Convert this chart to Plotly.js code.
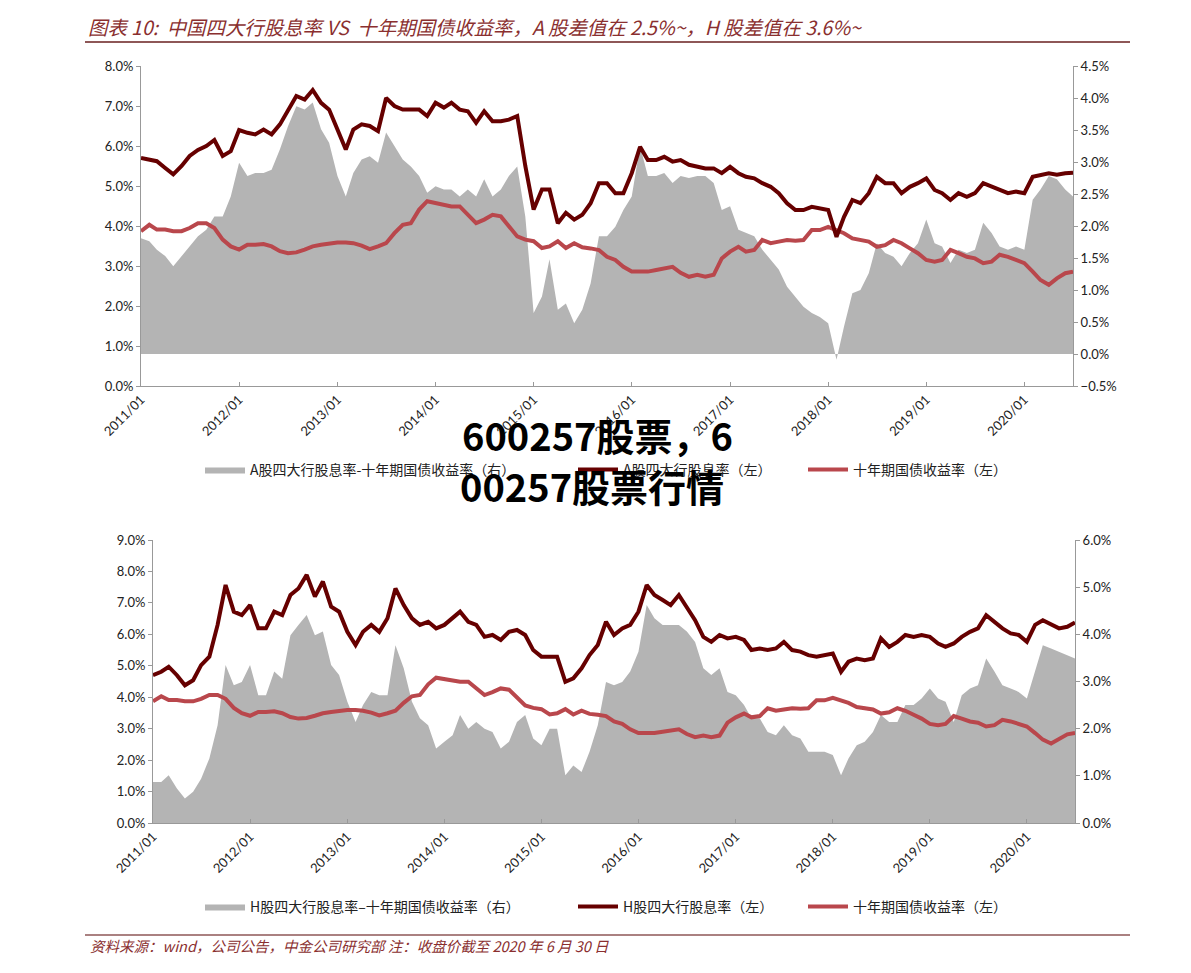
<!DOCTYPE html>
<html>
<head>
<meta charset="utf-8">
<script src="https://cdn.plot.ly/plotly-3.0.1.min.js"></script>
<style>html,body{margin:0;padding:0;background:#fff;}#chart{width:1191px;height:973px;}</style>
</head>
<body>
<div id="chart"></div>
<script>
// Monthly sample dates (start of month) plus final close
var dates = [
"2011-01-01","2011-02-01","2011-03-01","2011-04-01","2011-05-01","2011-06-01","2011-07-01","2011-08-01","2011-09-01","2011-10-01","2011-11-01","2011-12-01",
"2012-01-01","2012-02-01","2012-03-01","2012-04-01","2012-05-01","2012-06-01","2012-07-01","2012-08-01","2012-09-01","2012-10-01","2012-11-01","2012-12-01",
"2013-01-01","2013-02-01","2013-03-01","2013-04-01","2013-05-01","2013-06-01","2013-07-01","2013-08-01","2013-09-01","2013-10-01","2013-11-01","2013-12-01",
"2014-01-01","2014-02-01","2014-03-01","2014-04-01","2014-05-01","2014-06-01","2014-07-01","2014-08-01","2014-09-01","2014-10-01","2014-11-01","2014-12-01",
"2015-01-01","2015-02-01","2015-03-01","2015-04-01","2015-05-01","2015-06-01","2015-07-01","2015-08-01","2015-09-01","2015-10-01","2015-11-01","2015-12-01",
"2016-01-01","2016-02-01","2016-03-01","2016-04-01","2016-05-01","2016-06-01","2016-07-01","2016-08-01","2016-09-01","2016-10-01","2016-11-01","2016-12-01",
"2017-01-01","2017-02-01","2017-03-01","2017-04-01","2017-05-01","2017-06-01","2017-07-01","2017-08-01","2017-09-01","2017-10-01","2017-11-01","2017-12-01",
"2018-01-01","2018-02-01","2018-03-01","2018-04-01","2018-05-01","2018-06-01","2018-07-01","2018-08-01","2018-09-01","2018-10-01","2018-11-01","2018-12-01",
"2019-01-01","2019-02-01","2019-03-01","2019-04-01","2019-05-01","2019-06-01","2019-07-01","2019-08-01","2019-09-01","2019-10-01","2019-11-01","2019-12-01",
"2020-01-01","2020-02-01","2020-03-01","2020-04-01","2020-05-01","2020-06-01","2020-06-30"
];

// A-share big-4 bank dividend yield (%)  (left axis, top chart)
var aDiv = [
5.70,5.66,5.62,5.45,5.29,5.50,5.75,5.90,6.00,6.15,5.75,5.87,
6.40,6.33,6.29,6.41,6.29,6.54,6.87,7.25,7.16,7.40,7.08,6.91,
6.41,5.91,6.41,6.54,6.50,6.37,7.20,7.00,6.91,6.91,6.91,6.75,
7.08,6.96,7.08,6.91,6.87,6.58,6.87,6.62,6.62,6.66,6.75,5.50,
4.41,4.91,4.91,4.07,4.33,4.16,4.28,4.57,5.07,5.07,4.82,4.82,
5.32,5.98,5.65,5.65,5.73,5.61,5.65,5.53,5.48,5.44,5.44,5.32,
5.48,5.32,5.23,5.19,5.07,4.98,4.82,4.57,4.40,4.40,4.48,4.44,
4.40,3.73,4.23,4.65,4.57,4.82,5.23,5.07,5.07,4.82,4.98,5.07,
5.19,4.90,4.82,4.65,4.82,4.73,4.82,5.07,4.98,4.90,4.82,4.86,
4.82,5.23,5.28,5.32,5.28,5.32,5.33
];

// 10-year government bond yield (%)  (left axis, both charts)
var tenY = [
3.87,4.03,3.91,3.91,3.87,3.87,3.95,4.07,4.07,3.95,3.66,3.49,
3.41,3.53,3.53,3.55,3.49,3.37,3.32,3.34,3.41,3.49,3.53,3.57,
3.59,3.59,3.57,3.51,3.42,3.49,3.57,3.82,4.03,4.07,4.41,4.62,
4.58,4.53,4.49,4.49,4.28,4.07,4.16,4.28,4.24,3.99,3.74,3.66,
3.62,3.45,3.49,3.62,3.45,3.57,3.47,3.44,3.40,3.23,3.15,2.98,
2.86,2.86,2.86,2.90,2.94,2.98,2.83,2.73,2.78,2.73,2.78,3.19,
3.36,3.48,3.36,3.40,3.65,3.57,3.61,3.65,3.63,3.65,3.90,3.90,
3.98,3.90,3.82,3.69,3.65,3.61,3.48,3.52,3.65,3.57,3.44,3.32,
3.15,3.11,3.15,3.40,3.32,3.23,3.19,3.07,3.11,3.28,3.23,3.15,
3.07,2.86,2.65,2.53,2.69,2.82,2.86
];

// A-share dividend yield minus 10Y yield (%)  (right axis, top chart)
var aSpread = [
1.81,1.76,1.63,1.53,1.37,1.53,1.68,1.84,1.94,2.15,2.15,2.46,
2.99,2.78,2.83,2.83,2.88,3.20,3.56,3.87,3.82,3.93,3.51,3.30,
2.78,2.46,2.83,3.04,3.09,2.99,3.46,3.25,3.04,2.93,2.78,2.52,
2.62,2.57,2.57,2.46,2.57,2.46,2.73,2.46,2.57,2.78,2.93,2.15,
0.64,0.90,1.48,0.69,0.79,0.48,0.69,1.10,1.84,1.84,1.99,2.25,
2.46,3.25,2.78,2.78,2.83,2.67,2.78,2.75,2.78,2.78,2.67,2.25,
2.31,1.94,1.89,1.84,1.63,1.47,1.32,1.05,0.90,0.74,0.64,0.58,
0.48,-0.09,0.43,0.95,1.00,1.26,1.73,1.58,1.52,1.37,1.58,1.73,
2.10,1.73,1.68,1.42,1.63,1.58,1.63,2.05,1.89,1.68,1.63,1.68,
1.63,2.41,2.57,2.78,2.73,2.57,2.46
];

// H-share big-4 bank dividend yield (%)  (left axis, bottom chart)
var hDiv = [
4.70,4.81,4.97,4.70,4.38,4.54,5.02,5.29,6.30,7.57,6.72,6.61,
6.93,6.19,6.19,6.72,6.61,7.25,7.46,7.89,7.20,7.68,6.88,6.72,
6.08,5.66,6.08,6.30,6.08,6.51,7.46,6.93,6.51,6.30,6.40,6.19,
6.30,6.51,6.72,6.40,6.30,5.92,5.98,5.82,6.08,6.14,5.98,5.50,
5.29,5.29,5.29,4.49,4.60,4.92,5.34,5.66,6.40,5.98,6.19,6.30,
6.72,7.57,7.25,7.09,6.93,7.25,6.83,6.45,5.92,5.76,5.98,5.87,
5.92,5.82,5.50,5.55,5.50,5.55,5.76,5.50,5.45,5.34,5.29,5.34,
5.39,4.81,5.13,5.23,5.18,5.23,5.87,5.60,5.76,5.98,5.92,5.98,
5.92,5.71,5.60,5.71,5.92,6.08,6.19,6.61,6.40,6.19,6.03,5.98,
5.76,6.30,6.45,6.30,6.19,6.24,6.38
];

// H-share dividend yield minus 10Y yield (%)  (right axis, bottom chart)
var hSpread = [
0.87,0.87,1.01,0.73,0.52,0.66,0.94,1.37,2.07,3.35,2.92,2.99,
3.35,2.71,2.71,3.21,3.06,3.98,4.20,4.41,3.98,4.06,3.35,3.14,
2.57,2.14,2.50,2.78,2.71,2.71,3.77,3.28,2.57,2.22,2.07,1.58,
1.72,1.86,2.29,2.00,2.14,2.00,1.93,1.58,1.72,2.14,2.29,1.79,
1.65,2.00,2.00,1.01,1.22,1.08,1.51,2.07,2.99,2.92,2.99,3.21,
3.63,4.62,4.34,4.20,4.20,4.20,4.06,3.84,3.28,3.14,3.28,2.78,
2.71,2.50,2.22,2.22,1.93,1.86,2.07,1.86,1.79,1.51,1.51,1.51,
1.44,1.01,1.37,1.65,1.72,1.93,2.29,2.14,2.14,2.50,2.50,2.64,
2.85,2.64,2.57,2.14,2.71,2.85,2.92,3.49,3.21,2.92,2.85,2.78,
2.64,3.21,3.77,3.70,3.63,3.56,3.49
];

var yearTicks = ["2011-01-01","2012-01-01","2013-01-01","2014-01-01","2015-01-01","2016-01-01","2017-01-01","2018-01-01","2019-01-01","2020-01-01"];
var yearLabels = ["2011/01","2012/01","2013/01","2014/01","2015/01","2016/01","2017/01","2018/01","2019/01","2020/01"];

var names = {
  aSpread: "A股四大行股息率-十年期国债收益率（右）",
  aDiv: "A股四大行股息率（左）",
  tenY: "十年期国债收益率（左）",
  hSpread: "H股四大行股息率–十年期国债收益率（右）",
  hDiv: "H股四大行股息率（左）"
};

var GRAY = "#B4B4B4", DARK = "#660000", RED = "#B9474C";
var tickFont = {family: "Lato, 'Open Sans', sans-serif", size: 13, color: "#222"};
var cjk = "'Noto Sans CJK SC', 'Noto Sans', sans-serif";

// Right axes (y, y3) are the base layers so the grey area sits beneath the lines on the overlaid left axes (y2, y4)
var traces = [
  {x: dates, y: aSpread, xaxis: "x", yaxis: "y", type: "scatter", mode: "lines",
   line: {width: 0, color: GRAY}, fill: "tozeroy", fillcolor: GRAY, name: names.aSpread,
   legend: "legend", legendrank: 1, legendwidth: 318},
  {x: dates, y: tenY, xaxis: "x", yaxis: "y2", type: "scatter", mode: "lines",
   line: {width: 4, color: RED}, name: names.tenY, legend: "legend", legendrank: 3},
  {x: dates, y: aDiv, xaxis: "x", yaxis: "y2", type: "scatter", mode: "lines",
   line: {width: 4, color: DARK}, name: names.aDiv, legend: "legend", legendrank: 2, legendwidth: 175},

  {x: dates, y: hSpread, xaxis: "x2", yaxis: "y3", type: "scatter", mode: "lines",
   line: {width: 0, color: GRAY}, fill: "tozeroy", fillcolor: GRAY, name: names.hSpread,
   legend: "legend2", legendrank: 1, legendwidth: 318},
  {x: dates, y: tenY, xaxis: "x2", yaxis: "y4", type: "scatter", mode: "lines",
   line: {width: 4, color: RED}, name: names.tenY, legend: "legend2", legendrank: 3},
  {x: dates, y: hDiv, xaxis: "x2", yaxis: "y4", type: "scatter", mode: "lines",
   line: {width: 4, color: DARK}, name: names.hDiv, legend: "legend2", legendrank: 2, legendwidth: 175}
];

function xAx(domain, anchor) {
  return {domain: domain, anchor: anchor, type: "date", range: ["2011-01-01", "2020-06-30"],
    tickmode: "array", tickvals: yearTicks, ticktext: yearLabels, tickangle: -45,
    ticks: "inside", ticklen: 4, tickcolor: "#999", showline: true, linecolor: "#999", linewidth: 1,
    showgrid: false, zeroline: false, tickfont: tickFont, fixedrange: true};
}
function yAx(domain, anchor, range, dtick, side, overlay) {
  var a = {domain: domain, anchor: anchor, range: range, dtick: dtick, tick0: 0,
    tickformat: ".1f", ticksuffix: "%", ticks: "outside", ticklen: 4, tickcolor: "#999",
    showline: true, linecolor: "#999", linewidth: 1, showgrid: false, zeroline: false,
    tickfont: tickFont, side: side, fixedrange: true};
  if (overlay) a.overlaying = overlay;
  return a;
}

var topX = [141/1191, 1073/1191], topY = [1 - 386/973, 1 - 66/973];
var botX = [153/1191, 1075/1191], botY = [1 - 823/973, 1 - 540/973];

var titleColor = "#8A2F2F";
var legendFont = {family: cjk, size: 14, color: "#222"};
var layout = {
  width: 1191, height: 973,
  margin: {l: 0, r: 0, t: 0, b: 0},
  paper_bgcolor: "#fff", plot_bgcolor: "rgba(0,0,0,0)",
  showlegend: true,
  title: {text: "图表 10:  中国四大行股息率 VS  十年期国债收益率，A 股差值在 2.5%~，H 股差值在 3.6%~",
    x: 88/1191, xanchor: "left", y: 1 - 28/973, yanchor: "middle", xref: "paper", yref: "container",
    font: {family: cjk, size: 19.4, color: titleColor, style: "italic"}},
  xaxis: xAx(topX, "y"),
  yaxis: yAx(topY, "x", [-0.5, 4.5], 0.5, "right"),
  yaxis2: yAx(topY, "x", [0, 8], 1, "left", "y"),
  xaxis2: xAx(botX, "y3"),
  yaxis3: yAx(botY, "x2", [0, 6], 1, "right"),
  yaxis4: yAx(botY, "x2", [0, 9], 1, "left", "y3"),
  legend: {orientation: "h", x: 200/1191, xanchor: "left", y: 1 - 470/973, yanchor: "middle",
    font: legendFont, itemwidth: 40, bgcolor: "rgba(0,0,0,0)", traceorder: "normal"},
  legend2: {orientation: "h", x: 200/1191, xanchor: "left", y: 1 - 907/973, yanchor: "middle",
    font: legendFont, itemwidth: 40, bgcolor: "rgba(0,0,0,0)", traceorder: "normal"},
  shapes: [
    {type: "line", xref: "paper", yref: "paper", x0: 85/1191, x1: 1130/1191, y0: 1 - 42/973, y1: 1 - 42/973,
     line: {color: "#8E5757", width: 2}},
    {type: "line", xref: "paper", yref: "paper", x0: 85/1191, x1: 1130/1191, y0: 1 - 935/973, y1: 1 - 935/973,
     line: {color: "#8E5757", width: 1.5}}
  ],
  annotations: [
    {text: "资料来源：wind，公司公告，中金公司研究部 注：收盘价截至 2020 年 6 月 30 日",
     xref: "paper", yref: "paper", x: 88/1191, xanchor: "left", y: 1 - 945/973, yanchor: "middle",
     showarrow: false, font: {family: cjk, size: 14.5, color: titleColor, style: "italic"}},
    {text: "<b>600257股票，6</b>", xref: "paper", yref: "paper", x: 597/1191, xanchor: "center",
     y: 1 - 435/973, yanchor: "middle", showarrow: false,
     font: {family: cjk, size: 38, color: "#000"}},
    {text: "<b>00257股票行情</b>", xref: "paper", yref: "paper", x: 592/1191, xanchor: "center",
     y: 1 - 485/973, yanchor: "middle", showarrow: false,
     font: {family: cjk, size: 38, color: "#000"}}
  ]
};

Plotly.newPlot("chart", traces, layout, {displayModeBar: false, staticPlot: true});
</script>
</body>
</html>
